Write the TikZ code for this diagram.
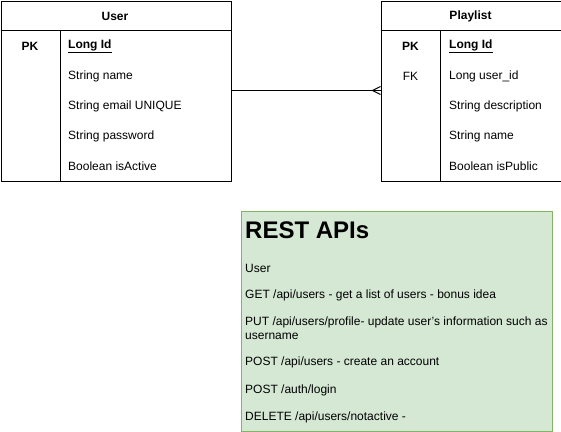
\documentclass[tikz,border=0pt]{standalone}
\usepackage{xcolor}
\usepackage{fontspec}
\setmainfont{Liberation Sans}
\usepackage{tikz}
\usetikzlibrary{positioning}

\definecolor{apifill}{HTML}{D5E8D4}
\definecolor{apiline}{HTML}{82B366}

\tikzset{
  tbl/.style={draw, line width=1pt, inner sep=0pt, anchor=north west},
  fld/.style={anchor=west, inner sep=0pt, font=\fontsize{12}{14}\selectfont},
  key/.style={inner sep=0pt, font=\fontsize{12}{14}\selectfont},
}

\begin{document}
\begin{tikzpicture}[x=1pt, y=-1pt]
\useasboundingbox (0,0) rectangle (561,431);

% User table
\node[tbl, minimum width=230pt, minimum height=180pt] (user) at (0.5,0.5) {};
\draw[line width=1pt] (0.5,30.5) -- (230.5,30.5);
\draw[line width=1pt] (60.5,30.5) -- (60.5,180.5);
\node[key, font=\bfseries\fontsize{12}{14}\selectfont] (userhead) at (115,16) {User};
\node[key, font=\bfseries\fontsize{12}{14}\selectfont] (userpk) at (30,46) {PK};
\node[fld, font=\bfseries\fontsize{12}{14}\selectfont] (userid) at (68,46) {\underline{Long Id}};
\node[fld] (username) at (68,76) {String name};
\node[fld] (useremail) at (68,106) {String email UNIQUE};
\node[fld] (userpass) at (68,136) {String password};
\node[fld] (useractive) at (68,166) {Boolean isActive};

% Playlist table
\node[tbl, minimum width=180pt, minimum height=180pt] (playlist) at (380.5,0.5) {};
\draw[line width=1pt] (380.5,30.5) -- (560.5,30.5);
\draw[line width=1pt] (440.5,30.5) -- (440.5,180.5);
\node[key, font=\bfseries\fontsize{12}{14}\selectfont] (plhead) at (470.5,16) {Playlist};
\node[key, font=\bfseries\fontsize{12}{14}\selectfont] (plpk) at (410.5,46) {PK};
\node[key] (plfk) at (410.5,76) {FK};
\node[fld, font=\bfseries\fontsize{12}{14}\selectfont] (plid) at (449,46) {\underline{Long Id}};
\node[fld] (pluser) at (449,76) {Long user\_id};
\node[fld] (pldesc) at (449,106) {String description};
\node[fld] (plname) at (449,136) {String name};
\node[fld] (plpublic) at (449,166) {Boolean isPublic};

% relation, many side at playlist
\draw[line width=1pt] (user.east |- 0,90.5) -- (playlist.west |- 0,90.5);
\draw[line width=1pt] (playlist.west |- 0,86.5) -- ++(-8,4) -- ++(8,4);

% REST APIs note
\node[tbl, fill=apifill, draw=apiline, minimum width=311pt, minimum height=220pt] (api) at (240.5,210.5) {};
\node[fld, font=\bfseries\fontsize{24}{28}\selectfont] (apititle) at (245,230) {REST APIs};
\node[fld] (apiuser) at (245,268) {User};
\node[fld] (apiget) at (245,295) {GET /api/users - get a list of users - bonus idea};
\node[fld] (apiput) at (245,322) {PUT /api/users/profile- update user's information such as};
\node[fld] (apiput2) at (245,336) {username};
\node[fld] (apipost) at (245,362) {POST /api/users - create an account};
\node[fld] (apilogin) at (245,390) {POST /auth/login};
\node[fld] (apidel) at (245,417) {DELETE /api/users/notactive -};
\end{tikzpicture}
\end{document}
